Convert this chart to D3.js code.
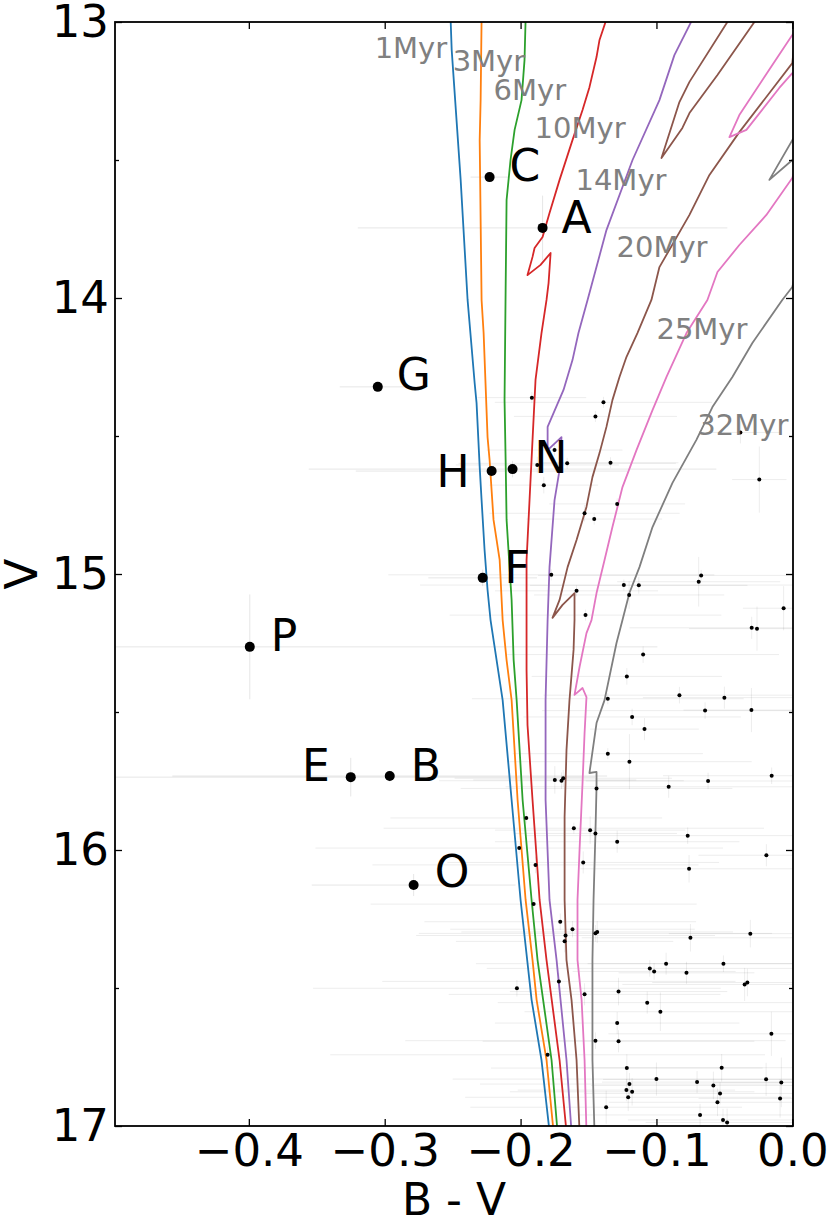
<!DOCTYPE html>
<html>
<head>
<meta charset="utf-8">
<script src="https://cdn.jsdelivr.net/npm/d3@7"></script>
<style>
  html, body { margin: 0; padding: 0; background: #fff; }
  svg { display: block; font-family: "DejaVu Sans", sans-serif; }
</style>
</head>
<body>
<svg id="chart" width="830" height="1225"></svg>
<script>
// ---------------- DATA ----------------
const xTicks = [-0.4, -0.3, -0.2, -0.1, 0.0];
const yTicks = [13, 14, 15, 16, 17];
const yMinorTicks = [13.5, 14.5, 15.5, 16.5];
const xLabel = "B - V";
const yLabel = "V";

// isochrones: [B-V, V]
const iso1 = [[-0.2515,12.99],[-0.2507,13.101],[-0.2441,13.572],[-0.2390,14.007],[-0.2338,14.308],[-0.2324,14.380],[-0.2301,14.612],[-0.2287,14.732],[-0.2265,14.913],[-0.2243,15.058],[-0.2221,15.167],[-0.2132,15.457],[-0.2066,15.819],[-0.2000,16.181],[-0.1919,16.543],[-0.1846,16.761],[-0.1787,17.02]];
const iso3 = [[-0.2287,12.99],[-0.2294,13.283],[-0.2301,13.428],[-0.2287,14.007],[-0.2272,14.127],[-0.2243,14.504],[-0.2228,14.587],[-0.2199,14.804],[-0.2154,14.949],[-0.2132,15.167],[-0.2103,15.312],[-0.2066,15.457],[-0.2022,15.819],[-0.1963,16.181],[-0.1912,16.399],[-0.1882,16.543],[-0.1809,16.761],[-0.1757,17.022]];
const iso6 = [[-0.1963,12.99],[-0.1971,13.138],[-0.1993,13.283],[-0.2044,13.391],[-0.2074,13.500],[-0.2103,13.645],[-0.2110,13.971],[-0.2118,14.370],[-0.2110,14.587],[-0.2103,14.804],[-0.2066,15.094],[-0.2051,15.312],[-0.2029,15.457],[-0.1985,15.819],[-0.1919,16.181],[-0.1875,16.399],[-0.1772,16.761],[-0.1728,17.022]];
const iso10 = [[-0.1368,12.99],[-0.1419,13.065],[-0.1441,13.127],[-0.1493,13.236],[-0.1544,13.319],[-0.1618,13.428],[-0.1713,13.572],[-0.1787,13.692],[-0.1838,13.779],[-0.1897,13.819],[-0.1912,13.851],[-0.1949,13.917],[-0.1853,13.880],[-0.1779,13.837],[-0.1794,13.946],[-0.1809,14.007],[-0.1846,14.127],[-0.1890,14.297],[-0.1912,14.514],[-0.1934,14.732],[-0.1956,14.949],[-0.1956,15.348],[-0.1949,15.547],[-0.1912,15.819],[-0.1860,16.181],[-0.1809,16.399],[-0.1713,16.761],[-0.1662,17.022]];
const iso14 = [[-0.0735,12.99],[-0.0868,13.120],[-0.0978,13.283],[-0.1176,13.500],[-0.1368,13.754],[-0.1507,14.007],[-0.1574,14.127],[-0.1618,14.225],[-0.1684,14.333],[-0.1801,14.467],[-0.1801,14.551],[-0.1699,14.504],[-0.1713,14.623],[-0.1750,14.732],[-0.1787,14.975],[-0.1801,15.167],[-0.1816,15.457],[-0.1816,15.819],[-0.1787,16.181],[-0.1735,16.399],[-0.1662,16.761],[-0.1625,17.022]];
const iso20 = [[-0.1566,17.022],[-0.1588,16.761],[-0.1625,16.543],[-0.1662,16.399],[-0.1676,16.181],[-0.1676,15.880],[-0.1662,15.638],[-0.1640,15.457],[-0.1610,15.275],[-0.1603,15.167],[-0.1603,15.069],[-0.1691,15.112],[-0.1765,15.159],[-0.1713,15.094],[-0.1654,14.975],[-0.1588,14.877],[-0.1515,14.757],[-0.1471,14.649],[-0.1419,14.562],[-0.1368,14.467],[-0.1324,14.370],[-0.1272,14.286],[-0.1221,14.214],[-0.1140,14.127],[-0.1037,14.007],[-0.0978,13.888],[-0.0757,13.699],[-0.0610,13.554],[-0.0390,13.399],[0.0000,13.149],[0.0051,12.902],[-0.0279,13.000],[-0.0551,13.192],[-0.0757,13.330],[-0.0809,13.384],[-0.0963,13.493],[-0.0831,13.290],[-0.0757,13.217],[-0.0478,13.000],[-0.0390,12.938]];
const iso25 = [[-0.1515,17.022],[-0.1529,16.761],[-0.1551,16.543],[-0.1581,16.399],[-0.1581,16.181],[-0.1566,16.000],[-0.1544,15.757],[-0.1529,15.576],[-0.1515,15.446],[-0.1544,15.413],[-0.1603,15.438],[-0.1566,15.337],[-0.1515,15.214],[-0.1478,15.167],[-0.1441,15.069],[-0.1382,14.949],[-0.1324,14.830],[-0.1250,14.685],[-0.1147,14.551],[-0.1029,14.406],[-0.0926,14.286],[-0.0779,14.127],[-0.0625,14.007],[-0.0551,13.906],[-0.0390,13.808],[-0.0191,13.699],[0.0000,13.565],[0.0125,13.373],[0.0000,13.185],[-0.0096,13.239],[-0.0338,13.391],[-0.0463,13.417],[-0.0390,13.337],[-0.0147,13.156],[0.0000,13.047],[0.0088,12.975]];
const iso32 = [[-0.1456,17.022],[-0.1471,16.761],[-0.1471,16.399],[-0.1463,16.181],[-0.1449,15.938],[-0.1441,15.772],[-0.1441,15.717],[-0.1493,15.721],[-0.1441,15.540],[-0.1382,15.457],[-0.1294,15.250],[-0.1250,15.167],[-0.1199,15.069],[-0.1125,14.975],[-0.1029,14.830],[-0.0882,14.670],[-0.0706,14.514],[-0.0588,14.395],[-0.0441,14.286],[-0.0294,14.163],[-0.0074,14.007],[0.0000,13.960],[0.0125,13.717],[0.0000,13.500],[-0.0169,13.572],[0.0000,13.428],[0.0088,13.355]];

const isoNames = ["1Myr","3Myr","6Myr","10Myr","14Myr","20Myr","25Myr","32Myr"];
const isoColors = ["#1f77b4","#ff7f0e","#2ca02c","#d62728","#9467bd","#8c564b","#e377c2","#7f7f7f"];
const isoLabelBV = [-0.3074,-0.2500,-0.2199,-0.1897,-0.1596,-0.1294,-0.1000,-0.0699];
const isoLabelV  = [13.130,13.178,13.283,13.420,13.609,13.851,14.149,14.496];

// labelled stars
const starNames = ["C","A","G","H","N","F","P","E","B","O"];
const starBV   = [-0.2228,-0.1838,-0.3051,-0.2213,-0.2059,-0.2279,-0.3993,-0.3250,-0.2963,-0.2787];
const starV    = [13.562,13.746,14.322,14.627,14.620,15.014,15.264,15.736,15.732,16.127];
const starBVerr= [0.014,0.136,0.028,0.10,0.15,0.04,0.30,0.18,0.16,0.075];
const starVerr = [0.01,0.117,0.01,0.02,0.03,0.03,0.19,0.07,0.02,0.04];
const starLabelBV = [-0.2081,-0.1699,-0.2912,-0.2375,-0.1897,-0.2118,-0.3838,-0.3404,-0.2809,-0.2632];
const starLabelV  = [13.576,13.764,14.333,14.685,14.634,15.033,15.279,15.750,15.750,16.134];

// field stars
const fieldBV = [-0.1917,-0.1390,-0.1449,-0.0382,-0.1750,-0.1657,-0.1338,-0.1877,-0.1829,-0.0243,
  -0.1289,-0.1529,-0.1458,-0.1774,-0.0671,-0.0689,-0.1240,-0.1130,-0.1588,-0.1201,
  -0.0064,-0.1522,-0.0299,-0.0260,-0.1098,-0.1218,-0.1358,-0.0831,-0.0500,-0.0642,
  -0.0301,-0.1179,-0.1088,-0.1358,-0.1199,-0.0152,-0.1748,-0.1699,-0.1686,-0.1441,
  -0.0910,-0.0620,-0.1958,-0.1608,-0.1488,-0.1449,-0.1289,-0.0770,-0.2010,-0.0191,
  -0.1890,-0.1539,-0.0760,-0.1904,-0.1708,-0.1618,-0.1669,-0.1676,-0.1449,-0.1436,
  -0.0750,-0.0309,-0.1049,-0.1017,-0.0929,-0.0779,-0.0507,-0.0351,-0.0331,-0.2027,
  -0.1718,-0.1529,-0.1279,-0.1068,-0.0971,-0.1289,-0.0154,-0.1449,-0.1279,-0.1801,
  -0.1218,-0.0520,-0.1000,-0.0701,-0.0581,-0.0193,-0.0081,-0.1199,-0.1179,-0.1221,
  -0.1208,-0.0532,-0.0551,-0.0090,-0.1370,-0.0679,-0.0510,-0.0480];
const fieldV = [14.361,14.378,14.429,14.487,14.551,14.599,14.597,14.605,14.678,14.658,
  14.746,14.780,14.801,15.003,15.005,15.028,15.040,15.041,15.061,15.076,
  15.124,15.149,15.195,15.198,15.292,15.371,15.452,15.439,15.448,15.495,
  15.493,15.518,15.562,15.651,15.680,15.731,15.746,15.749,15.740,15.777,
  15.771,15.750,15.884,15.921,15.928,15.940,15.970,15.948,15.993,16.019,
  16.054,16.045,16.068,16.196,16.260,16.287,16.310,16.331,16.302,16.297,
  16.318,16.303,16.429,16.440,16.412,16.445,16.412,16.487,16.480,16.501,
  16.476,16.523,16.513,16.553,16.586,16.627,16.666,16.691,16.693,16.742,
  16.790,16.789,16.830,16.841,16.853,16.831,16.842,16.848,16.876,16.870,
  16.896,16.882,16.914,16.900,16.932,16.960,16.978,16.987];
const fieldBVerr = [0.04,0.08,0.06,0.03,0.05,0.08,0.05,0.06,0.04,0.02,
  0.05,0.07,0.05,0.12,0.12,0.06,0.15,0.08,0.06,0.07,
  0.03,0.10,0.09,0.05,0.10,0.07,0.10,0.10,0.06,0.12,
  0.05,0.08,0.04,0.07,0.09,0.08,0.06,0.09,0.08,0.10,
  0.12,0.09,0.10,0.14,0.07,0.06,0.09,0.12,0.15,0.05,
  0.12,0.10,0.08,0.12,0.10,0.09,0.11,0.08,0.13,0.10,
  0.08,0.06,0.12,0.06,0.14,0.05,0.10,0.09,0.07,0.15,
  0.13,0.10,0.08,0.11,0.10,0.09,0.12,0.14,0.10,0.16,
  0.10,0.13,0.15,0.07,0.09,0.12,0.05,0.11,0.09,0.08,
  0.12,0.10,0.08,0.06,0.10,0.09,0.07,0.06];
const fieldVerr = [0.02,0.02,0.02,0.04,0.02,0.02,0.02,0.03,0.03,0.12,
  0.02,0.03,0.02,0.02,0.02,0.09,0.02,0.03,0.02,0.05,
  0.08,0.02,0.04,0.08,0.03,0.03,0.02,0.03,0.04,0.03,
  0.08,0.03,0.04,0.02,0.10,0.03,0.05,0.03,0.03,0.03,
  0.04,0.03,0.02,0.02,0.05,0.03,0.04,0.03,0.02,0.04,
  0.03,0.04,0.05,0.02,0.03,0.03,0.03,0.04,0.03,0.04,
  0.05,0.05,0.03,0.03,0.04,0.04,0.03,0.06,0.05,0.03,
  0.03,0.04,0.05,0.04,0.07,0.04,0.08,0.03,0.04,0.03,
  0.05,0.05,0.06,0.04,0.05,0.06,0.09,0.04,0.05,0.04,
  0.05,0.04,0.05,0.07,0.06,0.04,0.04,0.05];

// ---------------- DRAW ----------------
const W = 830, H = 1225;
const M = { left: 115, right: 793, top: 22, bottom: 1126 };
const svg = d3.select("#chart");

const x = d3.scaleLinear().domain([-0.4985, 0.0005]).range([M.left, M.right]);
const y = d3.scaleLinear().domain([13, 17]).range([M.top, M.bottom]);

svg.append("defs").append("clipPath").attr("id", "plotclip")
  .append("rect").attr("x", M.left).attr("y", M.top)
  .attr("width", M.right - M.left).attr("height", M.bottom - M.top);

const plot = svg.append("g").attr("clip-path", "url(#plotclip)");

// error bars
const ebColor = "rgba(0,0,0,0.075)";
const errG = plot.append("g");
const fieldIdx = d3.range(fieldBV.length);
errG.selectAll("line.fx").data(fieldIdx).join("line")
  .attr("x1", i => x(fieldBV[i] - fieldBVerr[i])).attr("x2", i => x(fieldBV[i] + fieldBVerr[i]))
  .attr("y1", i => y(fieldV[i])).attr("y2", i => y(fieldV[i]))
  .attr("stroke", ebColor).attr("stroke-width", 1);
errG.selectAll("line.fy").data(fieldIdx).join("line")
  .attr("x1", i => x(fieldBV[i])).attr("x2", i => x(fieldBV[i]))
  .attr("y1", i => y(fieldV[i] - fieldVerr[i])).attr("y2", i => y(fieldV[i] + fieldVerr[i]))
  .attr("stroke", ebColor).attr("stroke-width", 1);
const starIdx = d3.range(starNames.length);
errG.selectAll("line.sx").data(starIdx).join("line")
  .attr("x1", i => x(starBV[i] - starBVerr[i])).attr("x2", i => x(starBV[i] + starBVerr[i]))
  .attr("y1", i => y(starV[i])).attr("y2", i => y(starV[i]))
  .attr("stroke", "rgba(0,0,0,0.1)").attr("stroke-width", 1);
errG.selectAll("line.sy").data(starIdx).join("line")
  .attr("x1", i => x(starBV[i])).attr("x2", i => x(starBV[i]))
  .attr("y1", i => y(starV[i] - starVerr[i])).attr("y2", i => y(starV[i] + starVerr[i]))
  .attr("stroke", "rgba(0,0,0,0.1)").attr("stroke-width", 1);

// isochrones
const isos = [iso1, iso3, iso6, iso10, iso14, iso20, iso25, iso32];
const line = d3.line().x(d => x(d[0])).y(d => y(d[1]));
plot.selectAll("path.iso").data(isos).join("path")
  .attr("class", "iso")
  .attr("d", line)
  .attr("fill", "none")
  .attr("stroke", (d, i) => isoColors[i])
  .attr("stroke-width", 1.8)
  .attr("stroke-linejoin", "round");

// field stars
plot.selectAll("circle.field").data(fieldIdx).join("circle")
  .attr("cx", i => x(fieldBV[i])).attr("cy", i => y(fieldV[i]))
  .attr("r", 2).attr("fill", "#000");

// labelled stars
plot.selectAll("circle.star").data(starIdx).join("circle")
  .attr("cx", i => x(starBV[i])).attr("cy", i => y(starV[i]))
  .attr("r", 5).attr("fill", "#000");

// age labels
svg.selectAll("text.age").data(isoNames).join("text")
  .attr("x", (d, i) => x(isoLabelBV[i])).attr("y", (d, i) => y(isoLabelV[i]))
  .attr("fill", "#808080").attr("font-size", 29)
  .text(d => d);

// star labels
svg.selectAll("text.star").data(starIdx).join("text")
  .attr("x", i => x(starLabelBV[i])).attr("y", i => y(starLabelV[i]))
  .attr("text-anchor", i => starLabelBV[i] < starBV[i] ? "end" : "start")
  .attr("fill", "#000").attr("font-size", 44)
  .text(i => starNames[i]);

// axes
const fmtX = d3.format(".1f");
const axB = svg.append("g").attr("transform", `translate(0,${M.bottom})`)
  .call(d3.axisBottom(x).tickValues(xTicks).tickSize(-7).tickPadding(8).tickFormat(fmtX));
const axT = svg.append("g").attr("transform", `translate(0,${M.top})`)
  .call(d3.axisTop(x).tickValues(xTicks).tickSize(-7).tickFormat(""));
const axL = svg.append("g").attr("transform", `translate(${M.left},0)`)
  .call(d3.axisLeft(y).tickValues(yTicks).tickSize(-7).tickPadding(6).tickFormat(d3.format("d")));
const axLm = svg.append("g").attr("transform", `translate(${M.left},0)`)
  .call(d3.axisLeft(y).tickValues(yMinorTicks).tickSize(-4).tickFormat(""));
const axR = svg.append("g").attr("transform", `translate(${M.right},0)`)
  .call(d3.axisRight(y).tickValues(yTicks).tickSize(-7).tickFormat(""));
const axRm = svg.append("g").attr("transform", `translate(${M.right},0)`)
  .call(d3.axisRight(y).tickValues(yMinorTicks).tickSize(-4).tickFormat(""));

[axB, axT, axL, axLm, axR, axRm].forEach(g => {
  g.select(".domain").remove();
  g.selectAll(".tick line").attr("stroke", "#000").attr("stroke-width", 1.3);
  g.selectAll(".tick text").attr("fill", "#000").attr("font-size", 45)
    .attr("font-family", "DejaVu Sans, sans-serif");
});

// frame
svg.append("rect").attr("x", M.left).attr("y", M.top)
  .attr("width", M.right - M.left).attr("height", M.bottom - M.top)
  .attr("fill", "none").attr("stroke", "#000").attr("stroke-width", 1.8);

// axis labels
svg.append("text").attr("x", (M.left + M.right) / 2).attr("y", 1215)
  .attr("text-anchor", "middle").attr("font-size", 44).attr("fill", "#000").text(xLabel);
svg.append("text").attr("transform", `translate(37,${(M.top + M.bottom) / 2}) rotate(-90)`)
  .attr("text-anchor", "middle").attr("font-size", 45).attr("fill", "#000").text(yLabel);
</script>
</body>
</html>
